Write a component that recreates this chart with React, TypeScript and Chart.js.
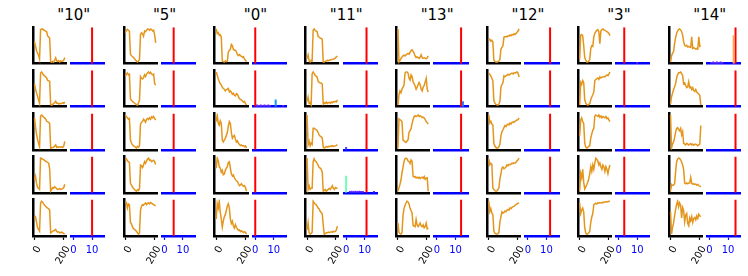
import React, { useEffect, useRef } from 'react';
import { Chart, registerables } from 'chart.js';
Chart.register(...registerables);
Chart.defaults.font.family = "'DejaVu Sans', sans-serif";

// ---------- data ----------
const titles = ['"10"', '"5"', '"0"', '"11"', '"13"', '"12"', '"3"', '"14"'];
const trueClass = [10, 5, 0, 11, 13, 12, 3, 14];
const leftTicks = [0, 200];
const rightTicks = [0, 10];
const stepX = 7; // time step between stored samples

const series10 = [
  [61,48,35,28,23,12,95,96,97,94,93,91,89,77,74,71,4,3,5,3,8,15,6,5,7,3,6,5,6,8,16],
  [65,50,39,29,19,9,96,99,95,90,88,85,82,75,74,72,5,4,6,9,11,15,9,10,7,9,8,9,11,9,13],
  [90,64,44,28,18,8,95,98,95,92,90,87,81,79,77,74,4,5,6,7,10,13,6,8,6,8,7,8,6,10,23],
  [38,48,28,17,15,12,97,96,94,93,91,89,87,85,83,68,7,12,17,15,19,17,13,12,13,14,12,13,14,17,26],
  [47,52,37,21,16,11,93,98,95,90,86,83,80,78,76,72,6,8,11,12,14,16,10,8,9,6,7,8,6,4,2],
];
const series5 = [
  [86,93,96,93,91,25,20,18,15,12,8,5,2,4,10,81,86,83,76,91,89,93,97,96,93,97,95,91,93,81,57],
  [85,92,95,90,92,21,17,14,11,9,7,4,3,9,17,85,80,78,82,90,85,92,95,98,94,97,92,90,92,65,60],
  [100,95,92,88,90,28,18,13,10,8,6,3,8,6,10,74,79,81,88,84,79,88,90,87,92,88,95,92,96,90,85],
  [94,97,91,89,87,28,22,17,13,10,7,5,9,7,12,79,77,72,79,89,84,91,97,99,93,94,89,91,93,89,81],
  [98,93,78,90,88,37,32,24,18,16,14,10,6,2,6,72,83,88,86,90,93,88,92,93,90,94,92,90,88,86,84],
];
const series0 = [
  [99,86,89,81,83,76,10,8,7,10,8,10,35,40,42,56,53,42,40,40,35,28,25,28,25,23,20,22,15,12,8],
  [100,90,80,72,65,62,55,51,49,44,48,49,51,41,44,40,34,37,31,29,36,34,27,21,19,17,14,11,13,6,2],
  [79,97,74,69,81,74,28,23,28,33,41,49,67,79,74,49,33,38,41,31,23,26,20,16,13,15,12,13,10,12,6],
  [64,91,84,68,64,53,58,46,48,58,64,68,79,81,64,48,43,46,38,33,30,28,22,17,19,22,17,15,17,12,2],
  [37,72,62,78,52,37,18,32,42,47,57,67,72,62,37,27,32,21,16,24,18,14,11,12,8,10,8,6,8,6,2],
];
const series11 = [
  [15,25,8,5,10,8,96,99,95,93,91,77,76,73,72,70,5,5,7,8,10,9,10,11,12,12,13,14,16,20,22],
  [14,27,9,11,4,95,100,95,90,88,85,72,70,68,68,65,7,11,9,13,9,11,12,9,13,11,14,13,15,13,19],
  [100,13,23,10,18,14,61,61,59,57,54,49,41,38,36,33,6,3,5,8,6,8,7,9,8,10,8,9,10,11,13],
  [99,12,22,12,15,15,89,97,91,89,84,79,73,71,68,60,7,9,12,7,10,12,15,12,17,22,15,12,17,15,17],
  [16,37,8,4,6,10,98,93,90,88,83,78,76,69,66,62,30,4,6,8,8,10,9,10,11,10,12,11,12,16,27],
];
const series13 = [
  [100,8,12,18,22,25,27,25,28,30,32,30,35,40,42,38,32,25,20,22,20,18,22,28,20,18,20,19,17,20,25],
  [4,34,44,39,49,55,60,95,98,98,95,80,75,90,85,70,65,58,49,55,62,68,62,49,44,55,60,70,80,49,41],
  [0,81,79,77,74,23,20,18,16,20,23,44,49,54,69,79,88,90,88,90,92,88,90,88,85,86,84,79,74,71,67],
  [7,17,26,38,58,73,89,97,99,97,91,89,84,94,90,48,46,48,44,46,43,46,42,45,46,43,48,40,43,44,7],
  [37,11,8,6,11,57,78,86,93,98,96,90,78,72,65,30,29,27,47,31,27,32,37,29,27,32,24,27,37,21,24],
];
const series12 = [
  [66,69,63,66,61,8,4,2,2,3,5,10,40,45,50,75,76,77,76,79,78,81,79,83,81,85,83,86,89,93,99],
  [85,82,78,72,65,14,7,4,3,2,5,11,49,55,60,78,76,78,80,82,80,82,84,85,83,86,85,87,88,85,75],
  [97,74,79,71,69,16,8,4,2,3,6,13,38,49,54,61,67,64,69,71,69,74,71,76,77,76,79,81,83,84,89],
  [97,79,84,81,12,7,4,2,3,7,12,38,53,70,73,68,70,73,79,77,81,79,81,84,83,85,84,87,91,94,99],
  [98,67,76,63,59,11,4,2,1,3,6,37,52,67,63,65,69,67,72,74,72,78,76,80,82,83,86,88,90,92,93],
];
const series3 = [
  [10,81,83,79,50,15,8,2,2,4,10,42,50,48,76,86,91,95,97,91,56,93,97,99,96,95,93,91,89,86,79],
  [9,70,65,75,70,24,14,11,9,11,13,24,31,37,44,75,78,80,82,78,85,82,84,85,86,85,88,90,88,92,98],
  [38,84,90,79,74,18,6,3,5,8,10,33,44,54,60,95,98,96,94,98,92,95,90,94,92,90,94,88,90,84,79],
  [7,48,38,58,28,12,17,22,28,36,48,64,53,68,58,73,84,81,77,68,73,64,58,68,64,53,64,58,48,60,68],
  [93,62,72,78,67,21,6,2,3,6,11,37,52,62,88,90,92,90,93,92,94,93,92,95,94,96,95,97,96,98,98],
];
const series14 = [
  [2,20,28,32,56,73,86,93,97,99,96,91,81,61,51,49,51,46,48,46,45,76,42,44,42,40,42,40,76,48,50],
  [4,24,34,44,51,60,75,85,90,90,92,88,82,60,62,55,49,51,65,49,51,44,49,41,39,44,37,34,31,27,1],
  [100,18,28,33,44,57,67,69,64,61,67,51,59,30,28,26,30,28,26,28,29,26,28,25,27,28,26,24,26,28,74],
  [7,26,23,24,28,60,90,97,100,99,95,89,81,68,30,28,30,28,30,30,46,29,27,28,26,27,24,26,23,21,19],
  [70,15,32,42,60,75,88,96,82,92,86,55,80,72,45,62,66,42,36,55,48,58,44,54,56,50,60,54,64,60,58],
];
const allSeries = [series10, series5, series0, series11, series13, series12, series3, series14];

// predicted class probabilities that are visibly non-zero: [column, row, class, value]
const predBars: [number, number, number, number][] = [
  [2, 1, 11, 0.2],
  [2, 1, 1, 0.06], [2, 1, 2, 0.05], [2, 1, 3, 0.06], [2, 1, 4, 0.05], [2, 1, 5, 0.06],
  [2, 1, 6, 0.05], [2, 1, 7, 0.06], [2, 1, 8, 0.05], [2, 1, 15, 0.05],
  [3, 2, 0, 0.08],
  [3, 3, 0, 0.47],
  [3, 3, 2, 0.05], [3, 3, 3, 0.06], [3, 3, 4, 0.05], [3, 3, 5, 0.06], [3, 3, 6, 0.05],
  [3, 3, 7, 0.06], [3, 3, 8, 0.05], [3, 3, 9, 0.05], [3, 3, 15, 0.05],
  [4, 1, 14, 0.15],
  [6, 0, 10, 0.05],
  [7, 0, 13, 0.78],
  [7, 0, 1, 0.05], [7, 0, 2, 0.06], [7, 0, 3, 0.05], [7, 0, 4, 0.06], [7, 0, 5, 0.05],
  [7, 0, 6, 0.06], [7, 0, 7, 0.05],
];

// ---------- styles / geometry ----------
const ORANGE = '#e4961c';
const COL_PITCH = 90.86;
const ROW_PITCH = 43.05;
const LEFT_X0 = 33;
const RIGHT_X0 = 71.3;
const TOP_Y0 = 27.3;
const AREA_W = 33.3;
const AREA_H = 36.4;
const TICK_FONT = { size: 10, family: "'DejaVu Sans', sans-serif" };

function rainbow(v: number): string {
  const r = Math.min(1, Math.abs(2 * v - 0.5));
  const g = Math.sin(Math.PI * v);
  const b = Math.cos((Math.PI * v) / 2);
  return `rgb(${Math.round(r * 255)},${Math.round(g * 255)},${Math.round(Math.max(0, b) * 255)})`;
}

type Geo = { cl: number; ct: number; cw: number; ch: number; pl: number; pr: number; pt: number; xb: number };
function geometry(x0: number, y0: number, w: number, h: number): Geo {
  const cl = Math.floor(x0) - 12;
  const pl = x0 - cl;
  const cw = Math.ceil(x0 + w) + 14 - cl;
  const pr = cw - pl - w;
  const ct = Math.floor(y0) - 3;
  const pt = y0 - ct;
  const ch = Math.ceil(y0 + h) - ct + 36;
  const xb = ch - pt - h;
  return { cl, ct, cw, ch, pl, pr, pt, xb };
}

function leftConfig(values: number[], bottom: boolean, g: Geo): any {
  const data = values.map((v, i) => ({ x: i * stepX, y: v }));
  const mn = Math.min(...values);
  const mx = Math.max(...values);
  const pad = (mx - mn) * 0.05;
  return {
    type: 'line',
    data: { datasets: [{ data, borderColor: ORANGE, borderWidth: 1.5, pointRadius: 0, tension: 0, fill: false }] },
    options: {
      animation: false, responsive: false, events: [],
      plugins: { legend: { display: false }, tooltip: { enabled: false } },
      layout: { padding: { left: g.pl, right: g.pr, top: g.pt, bottom: 0 } },
      scales: {
        x: {
          type: 'linear', min: -10.5, max: 220.5,
          afterBuildTicks: (s: any) => { s.ticks = leftTicks.map((v) => ({ value: v })); },
          afterFit: (s: any) => { s.height = g.xb; s.paddingLeft = 0; s.paddingRight = 0; },
          grid: { display: bottom, drawOnChartArea: false, drawTicks: bottom, tickLength: 4, tickColor: '#000', tickWidth: 1.2 },
          border: { display: true, color: '#000', width: 2.5 },
          ticks: {
            display: bottom, color: '#000', font: TICK_FONT, minRotation: 60, maxRotation: 60, padding: 4, autoSkip: false,
            labelOffset: 4.5,
          },
        },
        y: {
          type: 'linear', min: mn - pad, max: mx + pad,
          afterFit: (s: any) => { s.width = 0; s.paddingTop = 0; s.paddingBottom = 0; },
          grid: { display: false, drawTicks: false },
          border: { display: true, color: '#000', width: 2.5 },
          ticks: { display: false },
        },
      },
    },
  };
}

function rightConfig(col: number, row: number, bottom: boolean, g: Geo): any {
  const bars = predBars.filter((b) => b[0] === col && b[1] === row);
  const datasets: any[] = bars.map((b) => ({
    data: [{ x: b[2], y: 0 }, { x: b[2], y: b[3] }],
    borderColor: rainbow(b[3]), borderWidth: 2, pointRadius: 0, fill: false,
  }));
  datasets.push({
    data: [{ x: trueClass[col], y: 0 }, { x: trueClass[col], y: 1 }],
    borderColor: rainbow(1), borderWidth: 2, pointRadius: 0, fill: false,
  });
  return {
    type: 'line',
    data: { datasets },
    options: {
      animation: false, responsive: false, events: [],
      plugins: { legend: { display: false }, tooltip: { enabled: false } },
      layout: { padding: { left: g.pl, right: g.pr, top: g.pt, bottom: 0 } },
      scales: {
        x: {
          type: 'linear', min: -1.2, max: 16.8,
          afterBuildTicks: (s: any) => { s.ticks = rightTicks.map((v) => ({ value: v })); },
          afterFit: (s: any) => { s.height = g.xb; s.paddingLeft = 0; s.paddingRight = 0; },
          grid: { display: bottom, drawOnChartArea: false, drawTicks: bottom, tickLength: 4, tickColor: '#0000ff', tickWidth: 1.2 },
          border: { display: true, color: '#0000ff', width: 2.5 },
          ticks: { display: bottom, color: '#0000ff', font: TICK_FONT, minRotation: 0, maxRotation: 0, padding: 4.5, autoSkip: false },
        },
        y: { type: 'linear', min: 0, max: 1, display: false },
      },
    },
  };
}

function ChartCanvas({ g, make }: { g: Geo; make: () => any }) {
  const ref = useRef<HTMLCanvasElement>(null);
  useEffect(() => {
    if (!ref.current) return;
    const chart = new Chart(ref.current, make());
    return () => chart.destroy();
  }, []);
  return (
    <canvas
      ref={ref}
      width={g.cw}
      height={g.ch}
      style={{ position: 'absolute', left: g.cl, top: g.ct, width: g.cw, height: g.ch }}
    />
  );
}

export default function App() {
  const items: React.ReactNode[] = [];
  allSeries.forEach((colSeries, c) => {
    colSeries.forEach((vals, r) => {
      const bottom = r === colSeries.length - 1;
      const y0 = TOP_Y0 + ROW_PITCH * r;
      const gl = geometry(LEFT_X0 + COL_PITCH * c, y0, AREA_W, AREA_H);
      const gr = geometry(RIGHT_X0 + COL_PITCH * c, y0, AREA_W + 0.1, AREA_H);
      items.push(<ChartCanvas key={`l${c}-${r}`} g={gl} make={() => leftConfig(vals, bottom, gl)} />);
      items.push(<ChartCanvas key={`r${c}-${r}`} g={gr} make={() => rightConfig(c, r, bottom, gr)} />);
    });
  });
  return (
    <div style={{ position: 'absolute', left: 0, top: 0, width: 748, height: 276, overflow: 'hidden', background: '#fff' }}>
      {titles.map((t, c) => (
        <div
          key={t}
          style={{
            position: 'absolute', left: 73.7 + COL_PITCH * c, top: 7, transform: 'translateX(-50%)',
            fontFamily: "'DejaVu Sans', sans-serif", fontSize: 15, lineHeight: '17px', whiteSpace: 'nowrap', color: '#000',
          }}
        >
          {t}
        </div>
      ))}
      {items}
    </div>
  );
}
